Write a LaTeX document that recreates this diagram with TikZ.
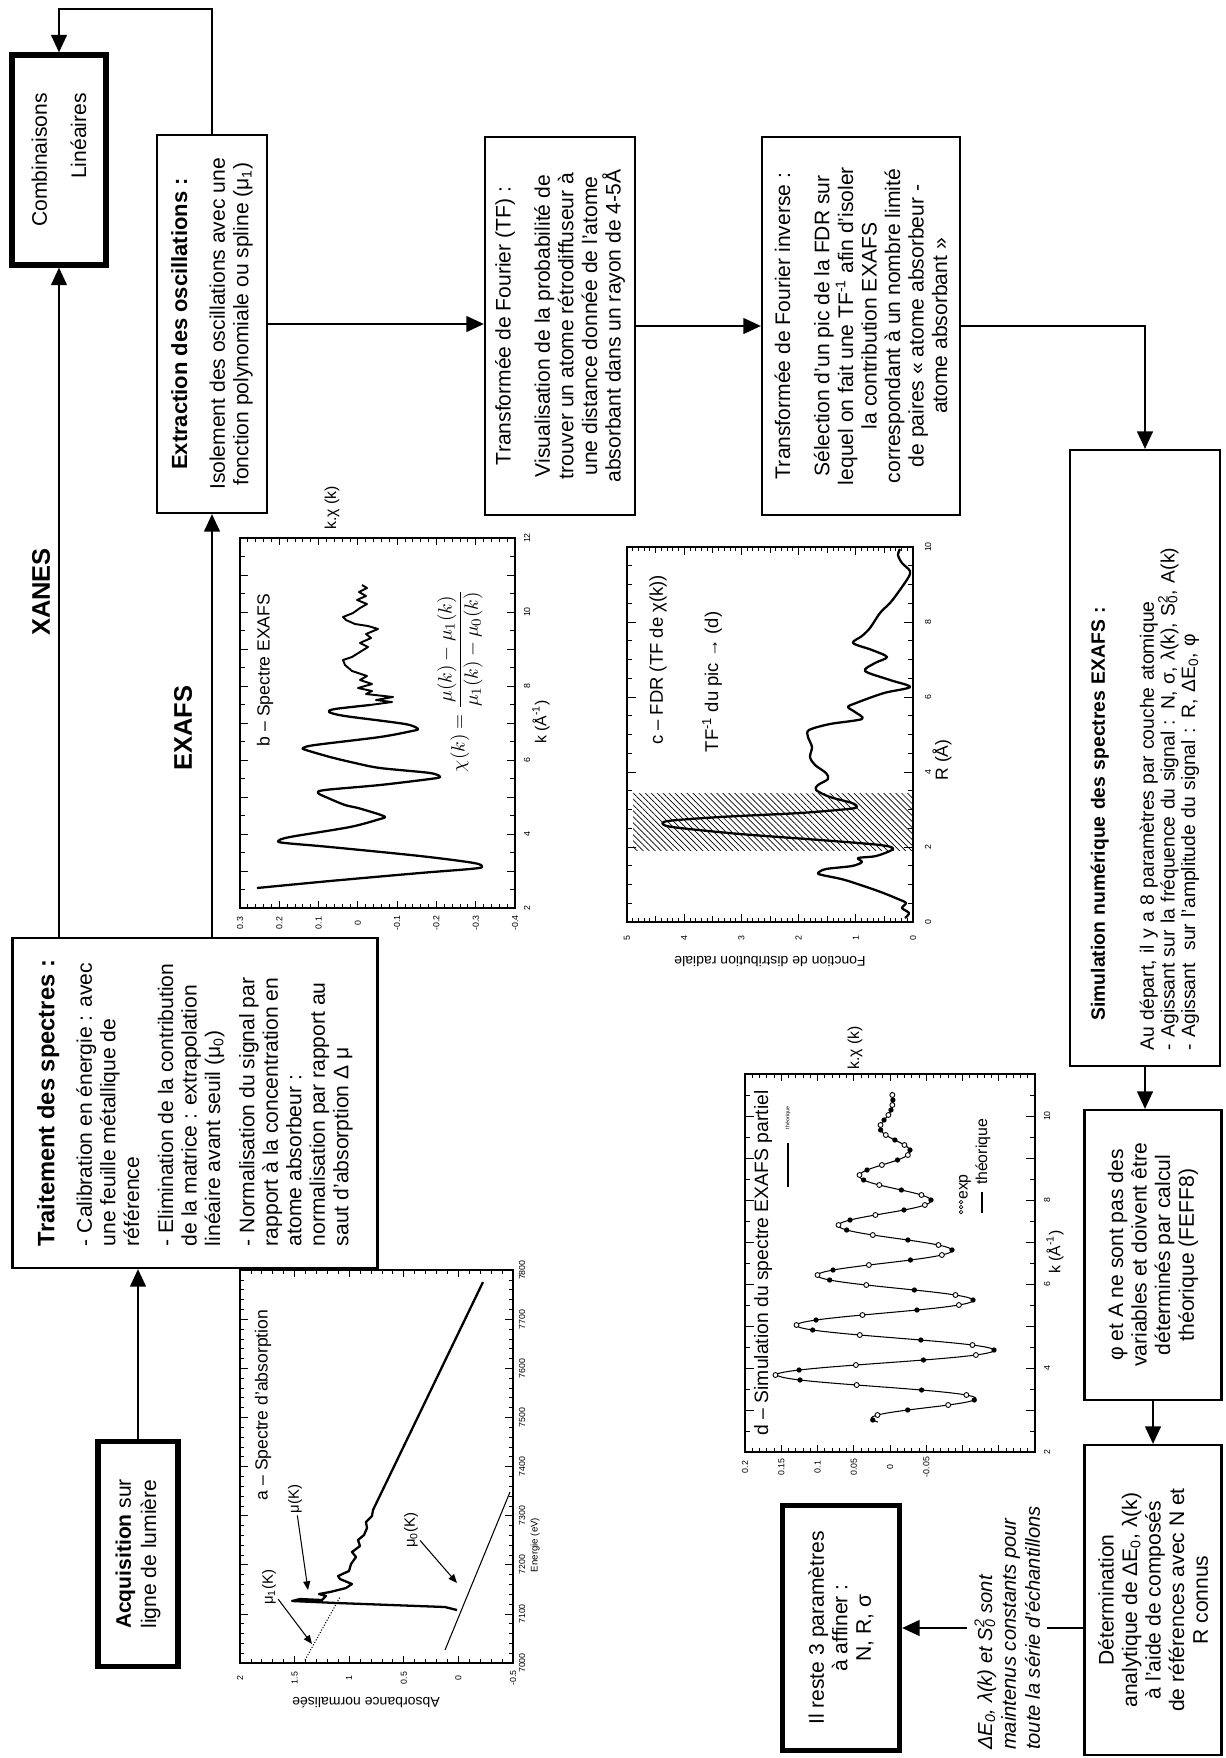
\documentclass[tikz,border=0pt]{standalone}
\usepackage{amsmath}
\usepackage{fontspec}
\setmainfont{Liberation Sans}
\usetikzlibrary{arrows.meta,patterns.meta}

\newcommand\fs[2]{\fontsize{#1}{#2}\selectfont}
\newcommand\Szd{S\rlap{\textsubscript{0}}\textsuperscript{2}}

\begin{document}
\begin{tikzpicture}[
  x=0.02cm, y=-0.02cm,
  box/.style     = {draw, line width=1.3pt, rotate=90, inner sep=0pt, align=center,
                    font=\fs{12}{13.4}},
  heavy/.style   = {box, line width=3pt},
  arrow/.style   = {line width=1.1pt, -{Triangle[length=10pt,width=9pt]}},
  branch/.style  = {rotate=90, font=\fs{14.5}{16}\bfseries},
  note/.style    = {rotate=90, fill=white, align=left, inner sep=4pt,
                    font=\fs{11.5}{13.6}\itshape},
  frame/.style   = {line width=0.8pt},
  tick/.style    = {line width=0.45pt},
  curve/.style   = {line width=1.3pt, line join=round},
  fine/.style    = {line width=0.6pt},
  tlbl/.style    = {rotate=90, font=\fs{5}{6}, inner sep=0pt},
  albl/.style    = {rotate=90, font=\fs{9}{10}, inner sep=0pt},
  ylbl/.style    = {rotate=180, font=\fs{8}{9}, inner sep=0pt},
  ptitle/.style  = {rotate=90, font=\fs{10.5}{12}, inner sep=0pt},
  pointer/.style = {line width=0.6pt, -{Triangle[length=5pt,width=4pt]}},
]
\useasboundingbox (0,0) rectangle (1225,1758);

% ---------------- flow boxes
\node[heavy, minimum width=4.2cm, minimum height=1.88cm, align=right] (comb) at (59,160)
  {Combinaisons\\[9pt]Linéaires};
\node[box, minimum width=7.56cm, minimum height=2.2cm] (extr) at (212,324)
  {{\fs{12.5}{14}\bfseries Extraction des oscillations :}\\[8pt]
   Isolement des oscillations avec une\\
   fonction polynomiale ou spline (μ\textsubscript{1})};
\node[box, minimum width=7.56cm, minimum height=3cm] (tf) at (560,326)
  {Transformée de Fourier (TF) :\\[9pt]
   Visualisation de la probabilité de\\
   trouver un atome rétrodiffuseur à\\
   une distance donnée de l'atome\\
   absorbant dans un rayon de 4-5Å};
\node[box, minimum width=7.56cm, minimum height=3.96cm] (tfinv) at (861,326)
  {Transformée de Fourier inverse :\\[9pt]
   Sélection d'un pic de la FDR sur\\
   lequel on fait une TF\textsuperscript{-1} afin d'isoler\\
   la contribution EXAFS\\
   correspondant à un nombre limité\\
   de paires « atome absorbeur -\\
   atome absorbant »};
\node[box, minimum width=12.32cm, minimum height=3cm, text width=11.7cm, align=left,
      font=\fs{11}{11.8}] (simul) at (1145,758)
  {\hspace*{0.6cm}{\bfseries Simulation numérique des spectres EXAFS :}\\[16pt]
   Au départ, il y a 8 paramètres par couche atomique\\
   - Agissant sur la fréquence du signal : N, σ, λ(k), \Szd, A(k)\\
   - Agissant\ \ sur l'amplitude du signal : R, ΔE\textsubscript{0}, φ};
\node[box, minimum width=5.8cm, minimum height=2.74cm] (phia) at (1153,1255)
  {φ et A ne sont pas des\\ variables et doivent être\\ déterminés par calcul\\ théorique (FEFF8)};
\node[box, minimum width=6.2cm, minimum height=2.74cm] (determ) at (1153,1600)
  {Détermination\\ analytique de ΔE\textsubscript{0}, λ(k)\\ à l'aide de composés\\
   de références avec N et\\ R connus};
\node[heavy, minimum width=4.9cm, minimum height=2.34cm] (reste) at (841,1628)
  {Il reste 3 paramètres\\ à affiner :\\ N, R, σ};
\node[box, minimum width=6.6cm, minimum height=7.3cm, align=left] (trait) at (195,1103)
  {{\fs{13.5}{15}\bfseries Traitement des spectres :}\\[8pt]
   - Calibration en énergie : avec\\
   une feuille métallique de\\
   référence\\[6pt]
   - Elimination de la contribution\\
   de la matrice : extrapolation\\
   linéaire avant seuil (μ\textsubscript{0})\\[6pt]
   - Normalisation du signal par\\
   rapport à la concentration en\\
   atome absorbeur :\\
   normalisation par rapport au\\
   saut d'absorption Δ μ};
\node[heavy, minimum width=4.5cm, minimum height=1.6cm] (acqui) at (138,1554)
  {\textbf{Acquisition} sur\\[1pt] ligne de lumière};

\node[branch] (xanes) at (41,592) {XANES};
\node[branch] (exafs) at (183,728) {EXAFS};

% ---------------- connectors
\draw[arrow] (extr.east) -- ++(0,-125) -| (comb.east);
\draw[arrow] (comb.west |- trait.east) -- (comb.west);
\draw[arrow] (extr.west |- trait.east) -- (extr.west);
\draw[arrow] (extr.south) -- (extr.south -| tf.north);
\draw[arrow] (tf.south) -- (tf.south -| tfinv.north);
\draw[arrow] (tfinv.south) -| (simul.east);
\draw[arrow] (simul.west) -- (simul.west |- phia.east);
\draw[arrow] (phia.west) -- (phia.west |- determ.east);
\draw[arrow] (reste.south -| determ.north) -- node[note, pos=0.42] (constants)
  {ΔE\textsubscript{0}, λ(k) et \Szd{} sont\\ maintenus constants pour\\ toute la série d'échantillons}
  (reste.south);
\draw[arrow] (acqui.east) -- (acqui.east |- trait.west);

% ---------------- a : spectre d'absorption
\draw[frame] (240,1270) rectangle (513,1663);
\foreach \i in {0,...,25}{
  \pgfmathsetmacro\tl{mod(\i,5)==0 ? 7 : 4}
  \draw[tick] (240+10.92*\i,1663) -- ++(0,-\tl);
  \draw[tick] (240+10.92*\i,1270) -- ++(0,\tl);
}
\foreach \i in {0,...,40}{
  \pgfmathsetmacro\tl{mod(\i,5)==0 ? 8 : 4}
  \draw[tick] (240,1663-9.82*\i) -- ++(\tl,0);
  \draw[tick] (513,1663-9.82*\i) -- ++(-\tl,0);
}
\foreach \j/\v in {0/2,1/1.5,2/1,3/0.5,4/0,5/-0.5}
  \node[tlbl] (aval\j) at (240+54.6*\j,1678) {\v};
\foreach \j/\v in {0/7000,1/7100,2/7200,3/7300,4/7400,5/7500,6/7600,7/7700,8/7800}
  \node[tlbl] (aen\j) at (522,1663-49.1*\j) {\v};
\node[ylbl] (aylab) at (366,1703) {Absorbance normalisée};
\node[tlbl, font=\fs{5.5}{6}] (axlab) at (535,1545) {Energie (eV)};
\node[ptitle, font=\fs{10}{12}] (atitle) at (263,1405) {a – Spectre d'absorption};
\draw[fine] (445,1650) -- (510,1492);
\draw[fine, densely dotted] (305,1660) -- (340,1597);
\draw[curve] (457,1610) -- (445,1607) -- (337,1603) -- (292,1601) -- (300,1599) -- (322,1600)
  -- (326,1596) -- (319,1594) -- (330,1592) -- (346,1588) -- (352,1584) -- (340,1579)
  -- (338,1576) -- (349,1571) -- (351,1564) -- (356,1557) -- (352,1552) -- (360,1546)
  -- (358,1540) -- (364,1535) -- (367,1528) -- (366,1522) -- (372,1516) -- (373,1510)
  -- (483,1282);
\node[rotate=90, font=\fs{8.5}{10}, inner sep=1pt] (mu1) at (269,1587) {μ\textsubscript{1}(K)};
\node[rotate=90, font=\fs{8.5}{10}, inner sep=1pt] (mu) at (295,1499) {μ(K)};
\node[rotate=90, font=\fs{8.5}{10}, inner sep=1pt] (mu0) at (411,1530) {μ\textsubscript{0}(K)};
\coordinate (mu1pt) at (312,1644);
\coordinate (mupt) at (308,1590);
\coordinate (mu0pt) at (457,1583);
\draw[pointer] (mu1) -- (mu1pt);
\draw[pointer] (mu) -- (mupt);
\draw[pointer] (mu0) -- (mu0pt);

% ---------------- b : spectre EXAFS
\draw[frame] (240,538) rectangle (515,908);
\foreach \i in {0,...,35}{
  \pgfmathsetmacro\tl{mod(\i,5)==0 ? 7 : 4}
  \draw[tick] (240+7.857*\i,908) -- ++(0,-\tl);
  \draw[tick] (240+7.857*\i,538) -- ++(0,\tl);
}
\foreach \i in {0,...,20}{
  \pgfmathsetmacro\tl{mod(\i,2)==0 ? 8 : 5}
  \draw[tick] (240,908-18.5*\i) -- ++(\tl,0);
  \draw[tick] (515,908-18.5*\i) -- ++(-\tl,0);
}
\foreach \j/\v in {0/0.3,1/0.2,2/0.1,3/0,4/-0.1,5/-0.2,6/-0.3,7/-0.4}
  \node[tlbl] (bval\j) at (240+39.29*\j,923) {\v};
\foreach \j/\v in {0/2,1/4,2/6,3/8,4/10,5/12}
  \node[tlbl] (bk\j) at (527,908-74*\j) {\v};
\node[albl] (bxlab) at (541,722) {k (Å\textsuperscript{-1})};
\node[albl] (bylab) at (332,508) {k.χ (k)};
\node[ptitle, font=\fs{10}{12}] (btitle) at (265,670) {b – Spectre EXAFS};
\node[rotate=90, font=\fs{11}{13}, inner sep=0pt] (chieq) at (460,681)
  {$\chi(k)=\dfrac{\mu(k)-\mu_1(k)}{\mu_1(k)-\mu_0(k)}$};
\draw[curve] plot[smooth, tension=0.5] coordinates {
  (257,888) (330,881) (420,873) (470,869) (482,867) (474,863) (420,856) (330,847)
  (285,843) (278,841) (290,837) (350,827) (380,819) (385,817) (378,814) (358,808)
  (345,805) (328,798) (318,793) (325,790) (380,785) (430,779) (440,777) (430,773)
  (380,768) (355,763) (330,757) (306,750) (303,748) (315,745) (380,737) (412,731)
  (418,729) (405,724) (345,716) (329,712) (335,709) (370,705)};
\draw[curve, line width=1.1pt] (370,705) -- (392,702) -- (376,700) -- (393,697) -- (366,694)
  -- (372,691) -- (358,688) -- (372,684) -- (360,680) -- (367,676) -- (352,671) -- (345,665)
  -- (343,660) -- (352,657) -- (360,652) -- (368,647) -- (360,643) -- (371,638) -- (366,634)
  -- (378,629) -- (368,626) -- (355,624) -- (346,620) -- (343,617) -- (353,613) -- (360,608)
  -- (367,604) -- (357,600) -- (366,596) -- (359,592) -- (367,588) -- (362,585);

% ---------------- c : FDR
\fill[pattern={Lines[angle=-45,distance=2.4pt,line width=0.4pt]}] (633,793) rectangle (913,850);
\draw[frame] (627,547) rectangle (913,922);
\foreach \i in {0,...,50}{
  \pgfmathsetmacro\tl{mod(\i,10)==0 ? 8 : (mod(\i,5)==0 ? 6 : 4)}
  \draw[tick] (913-5.72*\i,922) -- ++(0,-\tl);
  \draw[tick] (913-5.72*\i,547) -- ++(0,\tl);
}
\foreach \i in {0,...,20}{
  \pgfmathsetmacro\tl{mod(\i,4)==0 ? 9 : 5}
  \draw[tick] (627,922-18.75*\i) -- ++(\tl,0);
  \draw[tick] (913,922-18.75*\i) -- ++(-\tl,0);
}
\foreach \j in {0,...,5}
  \node[tlbl] (cval\j) at (913-57.2*\j,938) {\j};
\foreach \j/\v in {0/0,1/2,2/4,3/6,4/8,5/10}
  \node[tlbl] (cr\j) at (928,922-75*\j) {\v};
\node[albl, font=\fs{10}{11}] (cxlab) at (942,760) {R (Å)};
\node[ylbl] (cylab) at (770,962) {Fonction de distribution radiale};
\node[ptitle] (ctitle) at (658,660) {c – FDR (TF de χ(k))};
\node[ptitle] (cpeak) at (712,682) {TF\textsuperscript{-1} du pic → (d)};
\draw[curve] plot[smooth, tension=0.5] coordinates {
  (905,918) (909,913) (902,908) (906,903) (898,899) (878,891) (845,880) (822,875)
  (818,873) (826,869) (852,866) (862,862) (858,858) (876,856) (893,849) (880,845)
  (820,840) (740,834) (680,828) (664,825) (668,821) (720,817) (800,813) (848,809)
  (857,807) (852,803) (830,797) (816,790) (818,785) (828,779) (826,773) (815,765)
  (810,757) (812,747) (808,737) (809,730) (830,724) (862,719) (855,712) (848,707)
  (856,703) (884,693) (910,687) (890,680) (865,671) (875,663) (887,657) (872,650)
  (853,643) (862,636) (870,628) (880,613) (890,603) (897,594) (908,578) (910,571)
  (902,563) (898,555) (900,549)};

% ---------------- d : simulation
\draw[frame] (745,1074) rectangle (1035,1452);
\foreach \i in {0,...,40}{
  \pgfmathsetmacro\tl{mod(\i,5)==0 ? 7 : 4}
  \draw[tick] (745+7.25*\i,1452) -- ++(0,-\tl);
  \draw[tick] (745+7.25*\i,1074) -- ++(0,\tl);
}
\foreach \i in {0,...,18}{
  \pgfmathsetmacro\tl{mod(\i,2)==0 ? 9 : 5}
  \draw[tick] (745,1452-21*\i) -- ++(\tl,0);
  \draw[tick] (1035,1452-21*\i) -- ++(-\tl,0);
}
\foreach \j/\v in {0/0.2,1/0.15,2/0.1,3/0.05,4/0,5/-0.05}
  \node[tlbl] (dval\j) at (745+36.25*\j,1467) {\v};
\foreach \j/\v in {0/2,1/4,2/6,3/8,4/10}
  \node[tlbl] (dk\j) at (1047,1452-84*\j) {\v};
\node[albl] (dxlab) at (1055,1252) {k (Å\textsuperscript{-1})};
\node[albl] (dylab) at (855,1048) {k.χ (k)};
\node[ptitle, font=\fs{11}{12}] (dtitle) at (763,1263) {d – Simulation du spectre EXAFS partiel};
\draw[fine] plot[domain=-47:283, samples=260, variable=\s]
  ({890-725*(\s<0 ? 0.155*(1-(\s/50)*(\s/50)) : max(0.158-0.00058*\s,0.004))*cos(7.2*\s)}, {1375-\s});
\foreach \s [count=\n] in {-45,-40,...,280}{
  \pgfmathsetmacro\amp{\s<0 ? 0.155*(1-(\s/50)*(\s/50)) : max(0.158-0.00058*\s,0.004)}
  \ifodd\n
    \fill ({890-725*\amp*cos(7.2*\s)},{1375-\s}) circle[radius=1.5pt];
  \else
    \draw[line width=0.5pt, fill=white] ({890-725*\amp*cos(7.2*\s)},{1375-\s}) circle[radius=1.4pt];
  \fi
}
\draw[fine] (788,1187) -- (788,1143);
\node[rotate=90, font=\fs{3}{4}, inner sep=0pt] (dleg0) at (788,1118) {théorique};
\foreach \k in {0,1,2}
  \draw[line width=0.4pt] (961,1212-5*\k) circle[radius=1pt];
\draw[fine] (982,1213) -- (982,1192);
\node[rotate=90, font=\fs{9}{10}, inner sep=0pt] (dleg1) at (965,1187) {exp};
\node[rotate=90, font=\fs{9}{10}, inner sep=0pt] (dleg2) at (983,1152) {théorique};
\end{tikzpicture}
\end{document}
